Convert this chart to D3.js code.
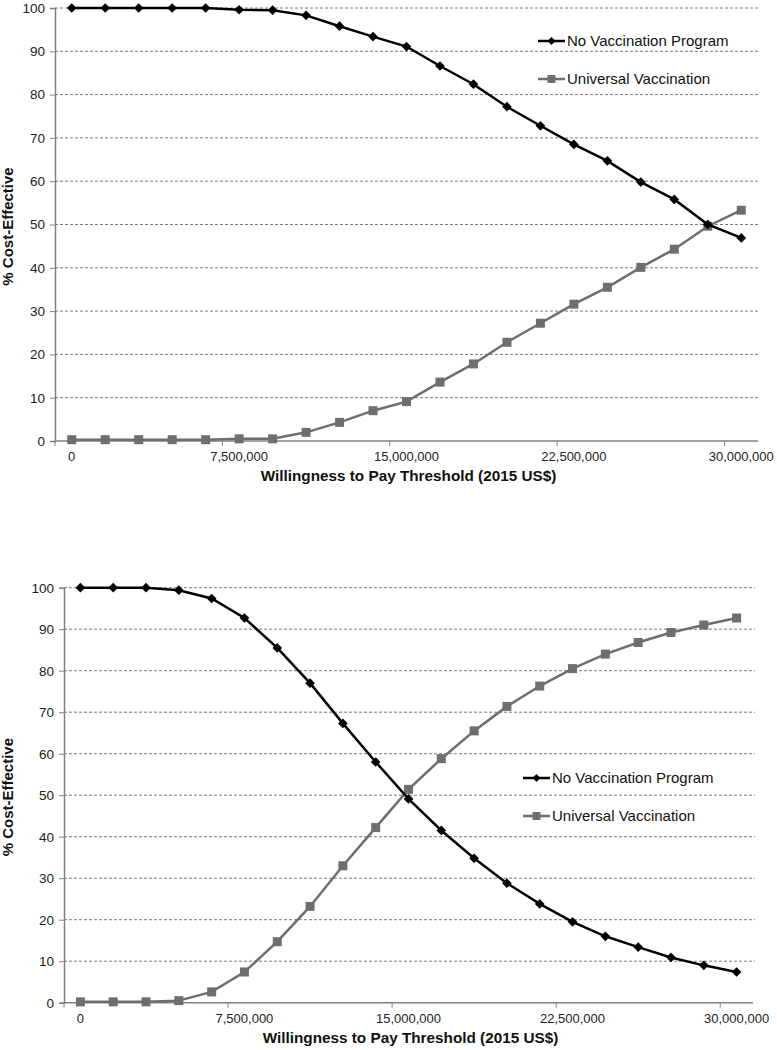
<!DOCTYPE html>
<html>
<head>
<meta charset="utf-8">
<script src="https://cdn.jsdelivr.net/npm/d3@7"></script>
<style>
  body { margin: 0; background: #fff; }
  svg { display: block; font-family: "Liberation Sans", Arial, sans-serif; }
</style>
</head>
<body>
<svg id="chart" width="777" height="1050"></svg>
<script>
// willingness to pay thresholds (2015 US$), one category every 1.5M
const wtpValues = [0, 1500000, 3000000, 4500000, 6000000, 7500000, 9000000, 10500000,
  12000000, 13500000, 15000000, 16500000, 18000000, 19500000, 21000000, 22500000,
  24000000, 25500000, 27000000, 28500000, 30000000];

const topNoVacc = [100, 100, 100, 100, 100, 99.6, 99.5, 98.3, 95.8, 93.4, 91.1,
  86.6, 82.4, 77.2, 72.8, 68.5, 64.7, 59.8, 55.8, 50.0, 46.9];
const topUniversal = [0.3, 0.3, 0.3, 0.3, 0.3, 0.5, 0.5, 2.0, 4.3, 7.0, 9.1,
  13.6, 17.8, 22.8, 27.2, 31.6, 35.5, 40.1, 44.3, 49.6, 53.3];

const bottomNoVacc = [100, 100, 100, 99.4, 97.4, 92.7, 85.5, 77.0, 67.3, 58.0, 49.1,
  41.5, 34.8, 28.8, 23.8, 19.5, 16.0, 13.4, 10.9, 9.0, 7.4];
const bottomUniversal = [0.2, 0.2, 0.2, 0.5, 2.6, 7.4, 14.7, 23.2, 33.0, 42.2, 51.4,
  58.8, 65.5, 71.4, 76.3, 80.5, 84.0, 86.8, 89.2, 91.0, 92.7];

const yTicks = [0, 10, 20, 30, 40, 50, 60, 70, 80, 90, 100];
const xLabelEvery = 5;
const seriesNames = ["No Vaccination Program", "Universal Vaccination"];

const svg = d3.select("#chart");
const fmt = d3.format(",");

function drawPanel(cfg) {
  const g = svg.append("g");

  let x = d3.scaleBand()
    .domain(wtpValues)
    .range([cfg.left, cfg.right])
    .paddingInner(0).paddingOuter(0);

  let y = d3.scaleLinear()
    .domain([0, 100])
    .range([cfg.bottom, cfg.top]);

  // gridlines
  g.append("g").selectAll("line")
    .data(yTicks.filter(d => d > 0))
    .join("line")
    .attr("x1", cfg.left).attr("x2", cfg.right + 2)
    .attr("y1", d => y(d)).attr("y2", d => y(d))
    .attr("stroke", "#7a7a7a")
    .attr("stroke-width", 1)
    .attr("stroke-dasharray", "3,2");

  // y axis
  let yAxis = g.append("g")
    .attr("transform", "translate(" + cfg.left + ",0)")
    .call(d3.axisLeft(y).tickValues(yTicks).tickSize(5).tickPadding(5));
  yAxis.select(".domain").attr("stroke", "#808080").attr("stroke-width", 1.5);
  yAxis.selectAll(".tick line").attr("stroke", "#808080");
  yAxis.selectAll("text").attr("font-size", 13.5).attr("fill", "#222")
    .attr("font-family", "Liberation Sans, Arial, sans-serif");

  // x axis (category axis, ticks on category boundaries)
  let xAxis = g.append("g");
  xAxis.append("line")
    .attr("x1", cfg.left).attr("x2", cfg.right)
    .attr("y1", y(0)).attr("y2", y(0))
    .attr("stroke", "#808080").attr("stroke-width", 1.5);
  let boundaryIdx = d3.range(0, wtpValues.length, xLabelEvery);
  xAxis.selectAll(".xt")
    .data(boundaryIdx)
    .join("line")
    .attr("class", "xt")
    .attr("x1", d => x(wtpValues[d])).attr("x2", d => x(wtpValues[d]))
    .attr("y1", y(0)).attr("y2", y(0) + 5)
    .attr("stroke", "#808080");
  xAxis.selectAll(".xl")
    .data(wtpValues.filter((d, i) => i % xLabelEvery === 0))
    .join("text")
    .attr("class", "xl")
    .attr("x", d => x(d) + x.bandwidth() / 2)
    .attr("y", y(0) + 20)
    .attr("text-anchor", "middle")
    .attr("font-size", 13)
    .attr("fill", "#222")
    .text(d => fmt(d));

  // axis titles
  g.append("text")
    .attr("x", (cfg.left + cfg.right) / 2 + 2)
    .attr("y", y(0) + 40)
    .attr("text-anchor", "middle")
    .attr("font-size", 15.3).attr("font-weight", "bold").attr("fill", "#111")
    .text("Willingness to Pay Threshold (2015 US$)");

  g.append("text")
    .attr("transform", "translate(" + cfg.titleX + "," + ((cfg.top + cfg.bottom) / 2 + 2) + ") rotate(-90)")
    .attr("text-anchor", "middle")
    .attr("font-size", 15).attr("font-weight", "bold").attr("fill", "#111")
    .text("% Cost-Effective");

  let line = d3.line()
    .x((d, i) => x(wtpValues[i]) + x.bandwidth() / 2)
    .y(d => y(d));

  // universal vaccination (gray squares)
  g.append("path")
    .datum(cfg.universal)
    .attr("d", line)
    .attr("fill", "none").attr("stroke", "#6e6e6e").attr("stroke-width", 2.5);
  g.selectAll(".sq")
    .data(cfg.universal)
    .join("rect")
    .attr("class", "sq")
    .attr("x", (d, i) => x(wtpValues[i]) + x.bandwidth() / 2 - 4.5)
    .attr("y", d => y(d) - 4.5)
    .attr("width", 9).attr("height", 9)
    .attr("fill", "#6e6e6e");

  // no vaccination program (black diamonds)
  g.append("path")
    .datum(cfg.noVacc)
    .attr("d", line)
    .attr("fill", "none").attr("stroke", "#000").attr("stroke-width", 2.5);
  let diamond = d3.symbol().type(d3.symbolDiamond2).size(60);
  g.selectAll(".dm")
    .data(cfg.noVacc)
    .join("path")
    .attr("class", "dm")
    .attr("transform", (d, i) => "translate(" + (x(wtpValues[i]) + x.bandwidth() / 2) + "," + y(d) + ")")
    .attr("d", diamond)
    .attr("fill", "#000");

  // legend
  let lg = g.append("g").attr("transform", "translate(" + cfg.legendX + "," + cfg.legendY + ")");
  let items = [
    { name: seriesNames[0], color: "#000", shape: "diamond" },
    { name: seriesNames[1], color: "#6e6e6e", shape: "square" }
  ];
  items.forEach((it, k) => {
    let row = lg.append("g").attr("transform", "translate(0," + (k * cfg.legendGap) + ")");
    row.append("line").attr("x1", 0).attr("x2", 27).attr("y1", 0).attr("y2", 0)
      .attr("stroke", it.color).attr("stroke-width", 2.5);
    if (it.shape === "diamond") {
      row.append("path").attr("transform", "translate(13.5,0)")
        .attr("d", d3.symbol().type(d3.symbolDiamond2).size(40)).attr("fill", it.color);
    } else {
      row.append("rect").attr("x", 9.5).attr("y", -4).attr("width", 8).attr("height", 8)
        .attr("fill", it.color);
    }
    row.append("text").attr("x", 29).attr("y", 5)
      .attr("font-size", 15).attr("fill", "#111")
      .text(it.name);
  });
}

drawPanel({
  left: 55, right: 758, top: 8, bottom: 441, titleX: 13,
  noVacc: topNoVacc, universal: topUniversal,
  legendX: 538, legendY: 41, legendGap: 38
});

drawPanel({
  left: 64, right: 753, top: 587.7, bottom: 1002.7, titleX: 13,
  noVacc: bottomNoVacc, universal: bottomUniversal,
  legendX: 523, legendY: 778, legendGap: 38
});
</script>
</body>
</html>
